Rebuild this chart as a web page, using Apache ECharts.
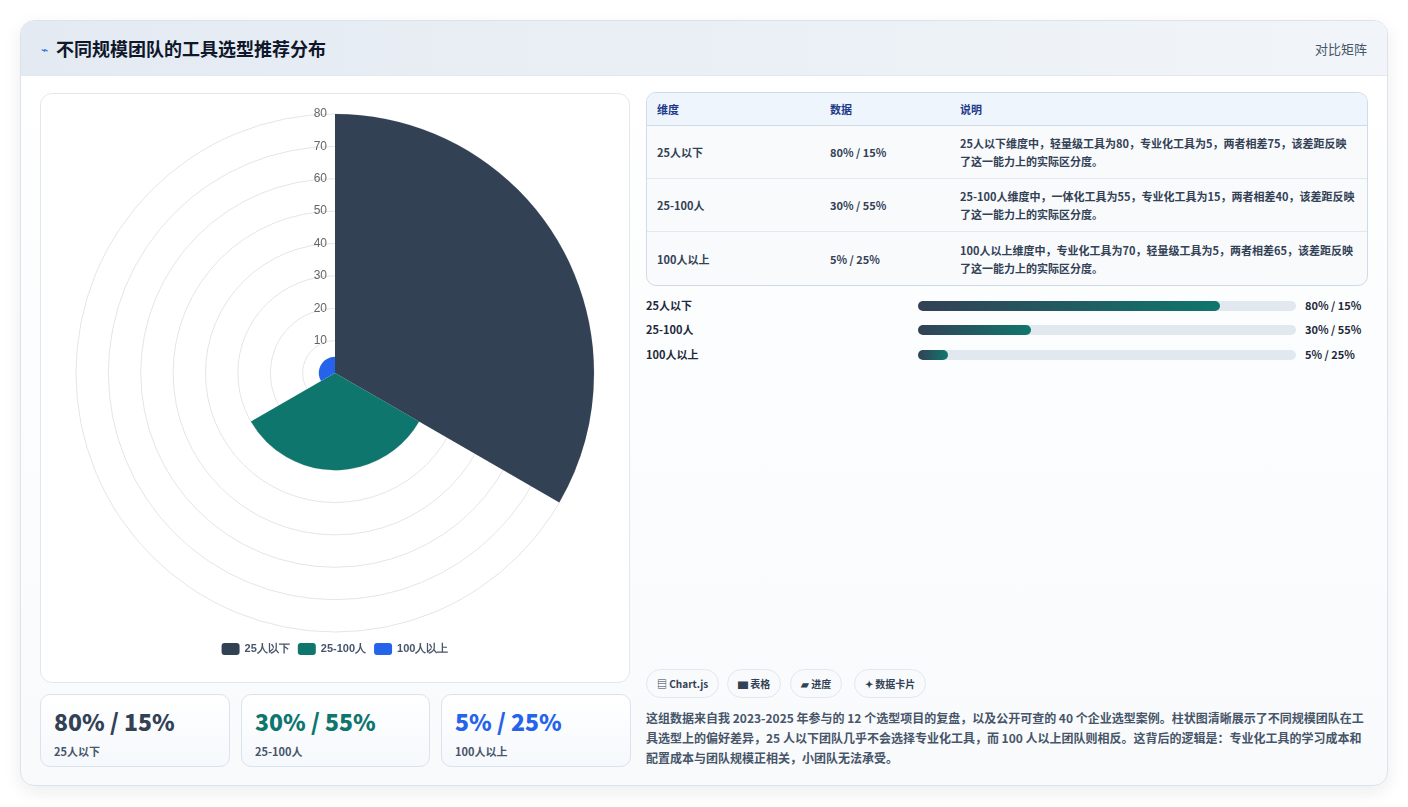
<!DOCTYPE html>
<html><head><meta charset="utf-8">
<script src="https://cdn.jsdelivr.net/npm/echarts@6/dist/echarts.min.js"></script>
<style>
*{box-sizing:border-box;margin:0;padding:0}
body{width:1408px;height:807px;background:#fff;font-family:"Noto Sans CJK SC","Noto Sans",sans-serif;color:#1e293b;position:relative;overflow:hidden}
.card{position:absolute;left:20px;top:20px;width:1368px;height:766px;border:1px solid #dbe3ec;border-radius:14px;background:linear-gradient(#fff,#f8fafc);box-shadow:0 6px 18px rgba(15,23,42,.08);overflow:hidden}
.hdr{height:55px;background:linear-gradient(90deg,#e4eaf2,#f1f5f9);border-bottom:1px solid #e2e8f0;display:flex;align-items:center;padding:0 20px}
.hdr h1{font-size:18px;font-weight:700;color:#0f172a;margin-left:8px}
.hdr .r{margin-left:auto;font-size:13px;color:#475569}
#chart{position:absolute;left:40px;top:93px;width:590px;height:590px;border:1px solid #e2e8f0;border-radius:12px;background:#fff}
.stat{position:absolute;top:694px;height:73px;border:1px solid #dbe3ec;border-radius:10px;background:linear-gradient(#fff,#f5f8fc);padding:10px 13px}
.stat b{display:block;font-size:23px;font-weight:800;line-height:32px}
.stat span{font-size:11px;font-weight:700;color:#475569}
table{position:absolute;left:646px;top:92px;width:722px;border:1px solid #cfdbe8;border-radius:10px;border-collapse:separate;border-spacing:0;overflow:hidden;font-size:11px;font-weight:700;background:#f8fafc}
th{background:#eef5fd;color:#1e3a8a;text-align:left;height:33px;padding:0 10px;border-bottom:1px solid #cfdbe8}
td{padding:7px 10px;height:53px;vertical-align:middle;border-bottom:1px solid #e2e8f0;color:#334155;line-height:18px}
tr:last-child td{border-bottom:none}
.bar{position:absolute;left:646px;width:722px;height:16px;font-size:11px;font-weight:700;color:#1e293b}
.bar .l{position:absolute;left:0;top:0}
.bar .t{position:absolute;left:272px;top:4px;width:378px;height:10px;border-radius:5px;background:#e2e8f0}
.bar .f{height:10px;border-radius:5px;background:linear-gradient(90deg,#334155,#0f766e)}
.bar .v{position:absolute;left:659px;top:0}
.chip{position:absolute;top:669px;height:29px;border:1px solid #e2e8f0;border-radius:15px;background:#f8fafc;font-size:10px;font-weight:700;padding:0 10px;line-height:27px;color:#334155}
.para{position:absolute;left:646px;top:708px;width:722px;font-size:12px;font-weight:700;color:#475569;line-height:20px}
</style></head><body>
<div class="card"><div class="hdr"><span style="color:#2563eb;font-size:12px">⌁</span><h1>不同规模团队的工具选型推荐分布</h1><span class="r">对比矩阵</span></div></div>
<div id="chart"></div>
<div class="stat" style="left:40px;width:190px"><b style="color:#334155">80% / 15%</b><span>25人以下</span></div>
<div class="stat" style="left:241px;width:189px"><b style="color:#0f766e">30% / 55%</b><span>25-100人</span></div>
<div class="stat" style="left:441px;width:190px"><b style="color:#2563eb">5% / 25%</b><span>100人以上</span></div>
<table>
<tr><th style="width:173px">维度</th><th style="width:130px">数据</th><th>说明</th></tr>
<tr><td>25人以下</td><td>80% / 15%</td><td>25人以下维度中，轻量级工具为80，专业化工具为5，两者相差75，该差距反映了这一能力上的实际区分度。</td></tr>
<tr><td>25-100人</td><td>30% / 55%</td><td>25-100人维度中，一体化工具为55，专业化工具为15，两者相差40，该差距反映了这一能力上的实际区分度。</td></tr>
<tr><td>100人以上</td><td>5% / 25%</td><td>100人以上维度中，专业化工具为70，轻量级工具为5，两者相差65，该差距反映了这一能力上的实际区分度。</td></tr>
</table>
<div id="bars"></div>
<div class="chip" style="left:646px">▤ Chart.js</div>
<div class="chip" style="left:727px">▆ 表格</div>
<div class="chip" style="left:790px">▰ 进度</div>
<div class="chip" style="left:854px">✦ 数据卡片</div>
<div class="para">这组数据来自我 2023-2025 年参与的 12 个选型项目的复盘，以及公开可查的 40 个企业选型案例。柱状图清晰展示了不同规模团队在工具选型上的偏好差异，25 人以下团队几乎不会选择专业化工具，而 100 人以上团队则相反。这背后的逻辑是：专业化工具的学习成本和配置成本与团队规模正相关，小团队无法承受。</div>
<script>
const categories=['25人以下','25-100人','100人以上'];
const values=[80,30,5];
const colors=['#334155','#0f766e','#2563eb'];
const labels=['80% / 15%','30% / 55%','5% / 25%'];
const barPct=[80,30,8];
const tops=[297,321,346];
let h='';
categories.forEach((c,i)=>{h+=`<div class="bar" style="top:${tops[i]}px"><span class="l">${c}</span><div class="t"><div class="f" style="width:${barPct[i]}%"></div></div><span class="v">${labels[i]}</span></div>`;});
document.getElementById('bars').innerHTML=h;
const ch=echarts.init(document.getElementById('chart'));
ch.setOption({
 polar:{center:['50%',279],radius:259},
 angleAxis:{type:'category',data:categories,startAngle:90,clockwise:true,axisLine:{show:false},axisTick:{show:false},axisLabel:{show:false},splitLine:{show:false}},
 radiusAxis:{min:0,max:80,interval:10,axisLine:{show:false},axisTick:{show:false},axisLabel:{color:'#666',fontSize:12},splitLine:{show:true,lineStyle:{color:'#e5e5e5'}}},
 legend:{bottom:22,itemWidth:18,itemHeight:12,textStyle:{color:'#475569',fontSize:11,fontWeight:'bold'},data:categories},
 series:categories.map((c,i)=>({type:'bar',coordinateSystem:'polar',name:c,stack:'a',barCategoryGap:'0%',itemStyle:{color:colors[i]},data:categories.map((_,j)=>j===i?values[i]:'-')}))
});
</script></body></html>
